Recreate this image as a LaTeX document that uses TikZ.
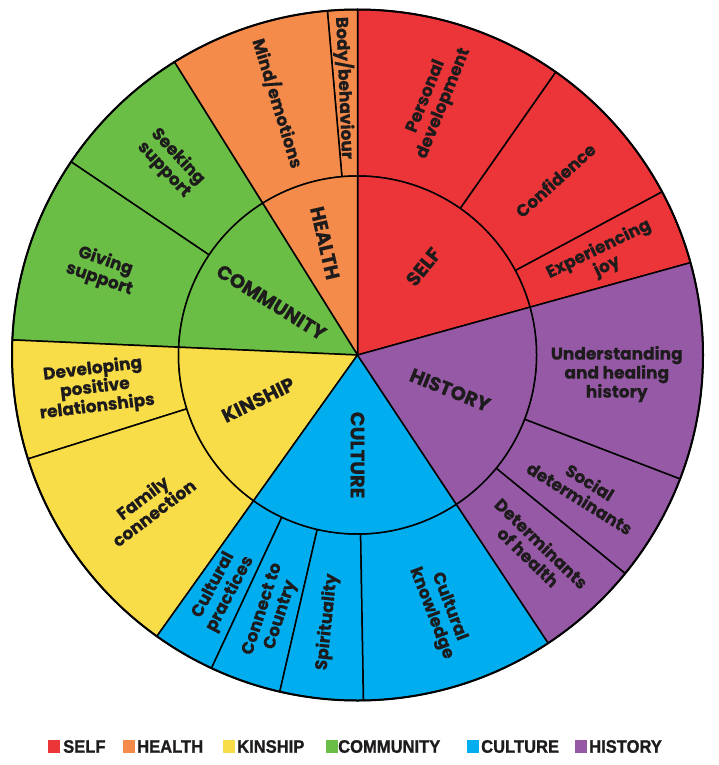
\documentclass[tikz,border=0pt]{standalone}
\usepackage{fontspec}
\usepackage{graphicx}
\setmainfont{Poppins}[BoldFeatures={FakeBold=0.5}]
\newfontfamily\legendfont{Liberation Sans}[BoldFeatures={FakeBold=1.2}]
\definecolor{cself}{HTML}{EC3539}
\definecolor{chealth}{HTML}{F58B4A}
\definecolor{ckin}{HTML}{F8DC48}
\definecolor{ccom}{HTML}{6ABD45}
\definecolor{ccul}{HTML}{00AEEF}
\definecolor{chis}{HTML}{9659A6}
\definecolor{ink}{HTML}{1E1B1C}
\newcommand\Ro{345.5pt}
\newcommand\Ri{179pt}
\newcommand\outerseg[3]{\filldraw[fill=#1,segline] (#2:\Ri) -- (#2:\Ro) arc[start angle=#2,end angle=#3,radius=\Ro] -- (#3:\Ri) arc[start angle=#3,end angle=#2,radius=\Ri] -- cycle;}
\newcommand\coreseg[3]{\filldraw[fill=#1,segline] (0,0) -- (#2:\Ri) arc[start angle=#2,end angle=#3,radius=\Ri] -- cycle;}
\newcommand\legword[1]{\scalebox{0.92}[1]{#1}}
\tikzset{
  segline/.style={draw=black,line width=1.5pt,line join=round},
  inlbl/.style={font=\bfseries\fontsize{19.5}{20}\selectfont,inner sep=0pt,text=ink},
  outlbl/.style={font=\bfseries\fontsize{17}{19}\selectfont,align=center,inner sep=0pt,text=ink},
  legsq/.style={inner sep=0pt,minimum width=12pt,minimum height=13pt},
  legtxt/.style={font=\legendfont\bfseries\fontsize{18}{18}\selectfont,anchor=west,inner sep=0pt,text=ink}
}
\begin{document}
\begin{tikzpicture}[x=1pt,y=1pt]
\useasboundingbox (0,0) rectangle (719,-765);
\fill[white] (0,0) rectangle (719,-765);
\begin{scope}[shift={(357.5,-355)}]
% outer ring
\outerseg{cself}{15.5}{28.2}
\outerseg{cself}{28.2}{55}
\outerseg{cself}{55}{90}
\outerseg{chealth}{90}{95}
\outerseg{chealth}{95}{122}
\outerseg{ccom}{122}{146}
\outerseg{ccom}{146}{177.5}
\outerseg{ckin}{177.5}{197.5}
\outerseg{ckin}{197.5}{234.5}
\outerseg{ccul}{234.5}{245}
\outerseg{ccul}{245}{257}
\outerseg{ccul}{257}{271}
\outerseg{ccul}{271}{303.5}
\outerseg{chis}{303.5}{320.8}
\outerseg{chis}{320.8}{339}
\outerseg{chis}{339}{375.5}
% core
\coreseg{cself}{15.5}{90}
\coreseg{chealth}{90}{122}
\coreseg{ccom}{122}{177.5}
\coreseg{ckin}{177.5}{234.5}
\coreseg{ccul}{234.5}{303.5}
\coreseg{chis}{303.5}{375.5}
\draw[line width=2pt] (0,0) circle[radius=\Ro];
% inner labels
\node[inlbl,rotate=51] (lself) at (53.3:110pt) {SELF};
\node[inlbl,rotate=-77] (lhealth) at (106.2:116.6pt) {HEALTH};
\node[inlbl,rotate=-32] (lcom) at (148.5:101pt) {COMMUNITY};
\node[inlbl,rotate=26] (lkin) at (204.3:109pt) {KINSHIP};
\node[inlbl,rotate=-90] (lcul) at (270:100pt) {CULTURE};
\node[inlbl,rotate=-22] (lhis) at (-20.7:99pt) {HISTORY};
% outer labels
\node[outlbl,rotate=-87.5] (obody) at (92.7:267.3pt) {Body/behaviour};
\node[outlbl,rotate=-73] (omind) at (107.5:264pt) {Mind/emotions};
\node[outlbl,rotate=-47] (oseek) at (134.2:267.7pt) {Seeking\\support};
\node[outlbl,rotate=-19] (ogive) at (161.6:269pt) {Giving\\support};
\node[outlbl,rotate=7] (odev) at (187.2:264.6pt) {Developing\\positive\\relationships};
\node[outlbl,rotate=37] (ofam) at (215.6:257.7pt) {Family\\connection};
\node[outlbl,rotate=62] (oprac) at (240:271pt) {Cultural\\practices};
\node[outlbl,rotate=72] (ocountry) at (251.6:271pt) {Connect to\\Country};
\node[outlbl,rotate=84] (ospirit) at (263.5:268.7pt) {Spirituality};
\node[outlbl,rotate=-69] (oknow) at (-72.1:268pt) {Cultural\\knowledge};
\node[outlbl,rotate=-44] (odet) at (-47.7:263.7pt) {Determinants\\of health};
\node[outlbl,rotate=-32] (osoc) at (-30.7:264.5pt) {Social\\determinants};
\node[outlbl] (ounder) at (-4.2:260pt) {Understanding\\and healing\\history};
\node[outlbl,rotate=26] (ojoy) at (21.6:264pt) {Experiencing\\joy};
\node[outlbl,rotate=42] (oconf) at (41.5:264pt) {Confidence};
\node[outlbl,rotate=68] (opers) at (73.1:266.5pt) {Personal\\development};
\end{scope}
% legend
\node[legsq,fill=cself,anchor=west] (sq1) at (48,-746.5) {};
\node[legtxt] (t1) at (63,-746.5) {\legword{SELF}};
\node[legsq,fill=chealth,anchor=west] (sq2) at (123,-746.5) {};
\node[legtxt] (t2) at (137,-746.5) {\legword{HEALTH}};
\node[legsq,fill=ckin,anchor=west] (sq3) at (223,-746.5) {};
\node[legtxt] (t3) at (237,-746.5) {\legword{KINSHIP}};
\node[legsq,fill=ccom,anchor=west] (sq4) at (326,-746.5) {};
\node[legtxt] (t4) at (338,-746.5) {\legword{COMMUNITY}};
\node[legsq,fill=ccul,anchor=west] (sq5) at (467,-746.5) {};
\node[legtxt] (t5) at (481,-746.5) {\legword{CULTURE}};
\node[legsq,fill=chis,anchor=west] (sq6) at (575,-746.5) {};
\node[legtxt] (t6) at (589,-746.5) {\legword{HISTORY}};
\end{tikzpicture}
\end{document}
